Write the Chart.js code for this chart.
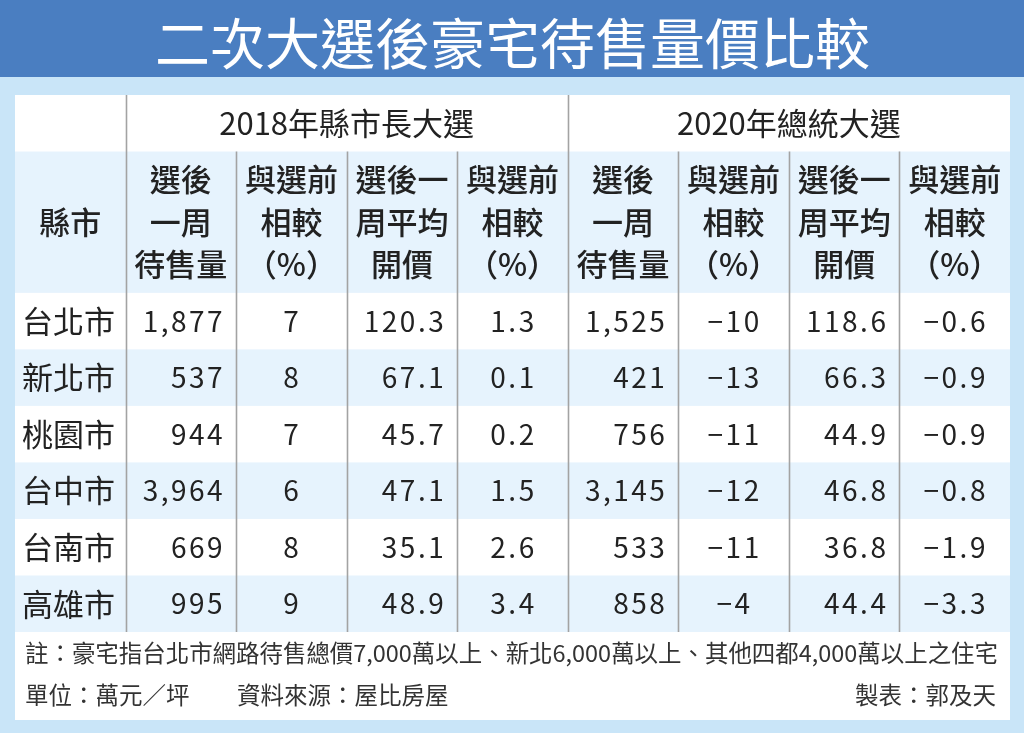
<!DOCTYPE html>
<html lang="zh-Hant">
<head>
<meta charset="utf-8">
<title>二次大選後豪宅待售量價比較</title>
<script src="https://cdn.jsdelivr.net/npm/chart.js@4.4.1/dist/chart.umd.min.js"></script>
<style>
  html, body { margin: 0; padding: 0; background: #c9e5f8; }
  #wrap { width: 1024px; height: 733px; position: relative; }
</style>
</head>
<body>
<div id="wrap"><canvas id="tableChart"></canvas></div>
<script>
// Table data
var cities = ["台北市", "新北市", "桃園市", "台中市", "台南市", "高雄市"];
var listings2018 = [1877, 537, 944, 3964, 669, 995];
var listingsChange2018 = [7, 8, 7, 6, 8, 9];
var price2018 = [120.3, 67.1, 45.7, 47.1, 35.1, 48.9];
var priceChange2018 = [1.3, 0.1, 0.2, 1.5, 2.6, 3.4];
var listings2020 = [1525, 421, 756, 3145, 533, 858];
var listingsChange2020 = [-10, -13, -11, -12, -11, -4];
var price2020 = [118.6, 66.3, 44.9, 46.8, 36.8, 44.4];
var priceChange2020 = [-0.6, -0.9, -0.9, -0.8, -1.9, -3.3];

var groupLabels = ["2018年縣市長大選", "2020年總統大選"];
var cityHeader = "縣市";
var columnHeaders = [
  ["選後", "一周", "待售量"],
  ["與選前", "相較", "（%）"],
  ["選後一", "周平均", "開價"],
  ["與選前", "相較", "（%）"],
];
var titleText = "二次大選後豪宅待售量價比較";
var noteText = "註：豪宅指台北市網路待售總價7,000萬以上、新北6,000萬以上、其他四都4,000萬以上之住宅";
var unitText = "單位：萬元／坪";
var sourceText = "資料來源：屋比房屋";
var authorText = "製表：郭及天";

document.addEventListener("DOMContentLoaded", function () {
  var FONT = '"Noto Sans CJK TC", "Noto Sans CJK SC", sans-serif';

  function minus(s) {
    return s.replace("-", "\u2212");
  }
  function fmtCount(v) {
    return v.toLocaleString("en-US");
  }
  function fmtInt(v) {
    return minus(String(v));
  }
  function fmtDec(v) {
    return minus(v.toFixed(1));
  }

  // columns 1..8: values, formatter, alignment
  var columns = [
    { values: listings2018, fmt: fmtCount, align: "right" },
    { values: listingsChange2018, fmt: fmtInt, align: "center" },
    { values: price2018, fmt: fmtDec, align: "right" },
    { values: priceChange2018, fmt: fmtDec, align: "center" },
    { values: listings2020, fmt: fmtCount, align: "right" },
    { values: listingsChange2020, fmt: fmtInt, align: "center" },
    { values: price2020, fmt: fmtDec, align: "right" },
    { values: priceChange2020, fmt: fmtDec, align: "center" },
  ];

  // row bands in y-units: group header 0-1, column header 1-3.5, data rows from 3.5
  var HEAD1 = 1;
  var HEAD2 = 3.5;
  var nCols = columns.length + 1;
  var yMax = HEAD2 + cities.length;

  var tablePlugin = {
    id: "tablePlugin",
    beforeDraw: function (chart) {
      var ctx = chart.ctx;
      var x = chart.scales.x;
      var y = chart.scales.y;
      var left = x.getPixelForValue(0);
      var right = x.getPixelForValue(nCols);
      var top = y.getPixelForValue(0);
      ctx.save();
      ctx.fillStyle = "#c9e5f8";
      ctx.fillRect(0, 0, chart.width, chart.height);
      ctx.fillStyle = "#4a7ec1";
      ctx.fillRect(0, 0, chart.width, 77);
      // white panel incl. footnotes
      ctx.fillStyle = "#ffffff";
      ctx.fillRect(left, top, right - left, chart.chartArea.bottom + 88 - top);
      // stripes
      ctx.fillStyle = "#e6f3fd";
      var y1 = y.getPixelForValue(HEAD1);
      var y2 = y.getPixelForValue(HEAD2);
      ctx.fillRect(left, y1, right - left, y2 - y1);
      for (var i = 1; i < cities.length; i += 2) {
        var a = y.getPixelForValue(HEAD2 + i);
        var b = y.getPixelForValue(HEAD2 + i + 1);
        ctx.fillRect(left, a, right - left, b - a);
      }
      ctx.restore();
    },
    afterDraw: function (chart) {
      var ctx = chart.ctx;
      var x = chart.scales.x;
      var y = chart.scales.y;
      var bottom = y.getPixelForValue(yMax);
      ctx.save();

      // vertical rules
      ctx.strokeStyle = "#a3a3a3";
      ctx.lineWidth = 1.6;
      for (var c = 1; c < nCols; c++) {
        var px = Math.round(x.getPixelForValue(c)) + 0.5;
        var from = c === 1 || c === 5 ? 0 : HEAD1;
        ctx.beginPath();
        ctx.moveTo(px, y.getPixelForValue(from));
        ctx.lineTo(px, bottom);
        ctx.stroke();
      }

      ctx.fillStyle = "#222222";
      ctx.textBaseline = "middle";

      // group headers
      ctx.textAlign = "center";
      ctx.font = "400 31px " + FONT;
      ctx.fillText(groupLabels[0], x.getPixelForValue(3), y.getPixelForValue(0.5));
      ctx.fillText(groupLabels[1], x.getPixelForValue(7), y.getPixelForValue(0.5));

      // column headers
      var hy = y.getPixelForValue((HEAD1 + HEAD2) / 2);
      ctx.font = "500 31px " + FONT;
      ctx.fillText(cityHeader, x.getPixelForValue(0.5), hy);
      for (var k = 0; k < columns.length; k++) {
        var lines = columnHeaders[k % 4];
        var cx = x.getPixelForValue(k + 1.5);
        for (var l = 0; l < lines.length; l++) {
          ctx.fillText(lines[l], cx, hy + (l - 1) * 42.5);
        }
      }

      // city names
      ctx.textAlign = "left";
      ctx.font = "400 31px " + FONT;
      for (var r = 0; r < cities.length; r++) {
        ctx.fillText(cities[r], x.getPixelForValue(0) + 7, y.getPixelForValue(HEAD2 + r + 0.5));
      }

      // values
      ctx.font = "400 28px " + FONT;
      if ("letterSpacing" in ctx) ctx.letterSpacing = "2.5px";
      for (var k2 = 0; k2 < columns.length; k2++) {
        var col = columns[k2];
        for (var r2 = 0; r2 < cities.length; r2++) {
          var py = y.getPixelForValue(HEAD2 + r2 + 0.5);
          var txt = col.fmt(col.values[r2]);
          if (col.align === "right") {
            ctx.textAlign = "right";
            ctx.fillText(txt, x.getPixelForValue(k2 + 2) - 11, py);
          } else {
            ctx.textAlign = "center";
            ctx.fillText(txt, x.getPixelForValue(k2 + 1.5) + 1, py);
          }
        }
      }
      if ("letterSpacing" in ctx) ctx.letterSpacing = "0px";

      // footnotes
      var fx = x.getPixelForValue(0) + 10;
      var fr = x.getPixelForValue(nCols) - 14;
      ctx.fillStyle = "#333333";
      ctx.font = "400 23.5px " + FONT;
      ctx.textAlign = "left";
      ctx.fillText(noteText, fx, bottom + 21, fr - fx + 2);
      ctx.fillText(unitText, fx, bottom + 63);
      ctx.fillText(sourceText, fx + 212, bottom + 63);
      ctx.textAlign = "right";
      ctx.fillText(authorText, fr, bottom + 63);
      ctx.restore();
    },
  };

  var options = {
    responsive: true,
    maintainAspectRatio: false,
    animation: false,
    layout: {
      padding: { top: 0, left: 15, right: 14, bottom: 101 },
    },
    scales: {
      x: { type: "linear", min: 0, max: nCols, display: false },
      y: { type: "linear", min: 0, max: yMax, reverse: true, display: false },
    },
    plugins: {
      legend: { display: false },
      tooltip: { enabled: false },
      title: {
        display: true,
        text: titleText,
        color: "#ffffff",
        font: { family: FONT, size: 55, weight: "400" },
        padding: { top: 10, bottom: 19 },
      },
    },
  };

  var ctx = document.getElementById("tableChart").getContext("2d");
  var tableChart = new Chart(ctx, {
    type: "scatter",
    data: { datasets: [] },
    options: options,
    plugins: [tablePlugin],
  });
});
</script>
</body>
</html>
